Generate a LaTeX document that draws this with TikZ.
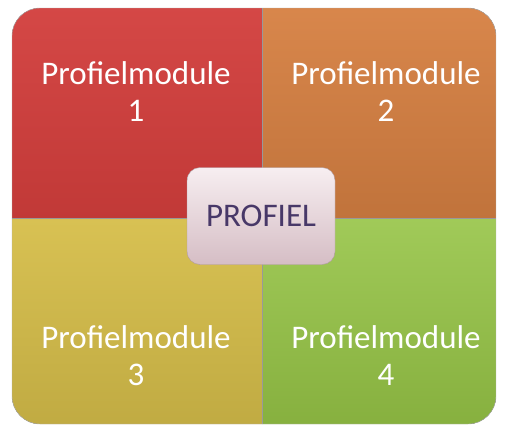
\documentclass[tikz,border=0pt]{standalone}
\usepackage{fontspec}
\setmainfont{Carlito}
\usetikzlibrary{positioning}

\definecolor{modred}{RGB}{210,62,60}
\definecolor{modorange}{RGB}{214,128,66}
\definecolor{modyellow}{RGB}{214,190,74}
\definecolor{modgreen}{RGB}{150,196,70}
\definecolor{corepink}{RGB}{232,206,214}
\definecolor{coretext}{RGB}{72,56,104}

\tikzset{
  modtext/.style = {text=white, font=\fontsize{33}{37}\selectfont, align=center},
  coretag/.style = {draw=corepink!75!black, rounded corners=13, top color=corepink!35!white,
                    bottom color=corepink!92!black, minimum width=148, minimum height=97,
                    text=coretext, font=\fontsize{33}{37}\selectfont}
}

\begin{document}
\begin{tikzpicture}[x=1pt, y=-1pt]
\useasboundingbox (0,0) rectangle (505,431);

%draw quadrants
\begin{scope}
\clip[rounded corners=28] (12,8) rectangle (496,424);
\fill[top color=modred!95!white, bottom color=modred!92!black] (12,8) rectangle (262,218);
\fill[top color=modorange!95!white, bottom color=modorange!90!black] (262,8) rectangle (496,218);
\fill[top color=modyellow!95!white, bottom color=modyellow!90!black] (12,218) rectangle (262,424);
\fill[top color=modgreen!90!white, bottom color=modgreen!90!black] (262,218) rectangle (496,424);
\draw[black!40, line width=1] (262,8) -- (262,424);
\draw[black!40, line width=1] (12,218) -- (496,218);
\end{scope}
\draw[black!30, rounded corners=28] (12,8) rectangle (496,424);

%draw labels
\node[modtext] (mod1) at (136,92) {Profielmodule\\1};
\node[modtext] (mod2) at (386,92) {Profielmodule\\2};
\node[modtext] (mod3) at (136,356) {Profielmodule\\3};
\node[modtext] (mod4) at (386,356) {Profielmodule\\4};

\node[coretag] (core) at (261,216) {PROFIEL};
\end{tikzpicture}
\end{document}
